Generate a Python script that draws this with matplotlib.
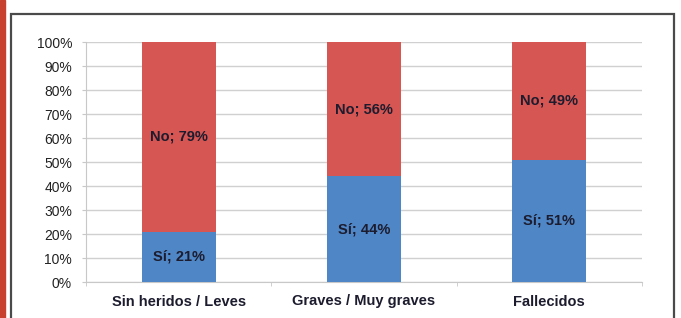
import matplotlib.pyplot as plt
from matplotlib.patches import Rectangle
from matplotlib.ticker import PercentFormatter, FixedLocator

plt.rcParams["font.family"] = ["Liberation Sans", "DejaVu Sans"]

# Data
categories = ["Sin heridos / Leves", "Graves / Muy graves", "Fallecidos"]
si_values = [21, 44, 51]
no_values = [79, 56, 49]

COLOR_SI = "#4F86C6"
COLOR_NO = "#D65653"
TEXT = "#1C1C2E"


def main() -> None:
    fig = plt.figure(figsize=(6.81, 3.18), dpi=100)

    # Red strip on the left and dark frame, as in the page layout
    fig.patches.append(Rectangle((0, 0), 5 / 681, 1, transform=fig.transFigure,
                                 color="#C8412F", zorder=0))
    fig.patches.append(Rectangle((11 / 681, -0.1), 663 / 681, 1 - 14 / 318 + 0.1,
                                 transform=fig.transFigure, fill=False,
                                 edgecolor="#4A4A4A", linewidth=1.6, zorder=1))

    ax = fig.add_axes([86 / 681, 1 - 282 / 318, 556 / 681, 240 / 318])
    x = range(len(categories))
    ax.bar(x, si_values, width=0.4, color=COLOR_SI, zorder=3)
    ax.bar(x, no_values, width=0.4, bottom=si_values, color=COLOR_NO, zorder=3)

    for i, (si, no) in enumerate(zip(si_values, no_values)):
        ax.text(i, si / 2, f"Sí; {si}%", ha="center", va="center",
                fontsize=10.5, fontweight="bold", color=TEXT, zorder=4)
        ax.text(i, si + no / 2, f"No; {no}%", ha="center", va="center",
                fontsize=10.5, fontweight="bold", color=TEXT, zorder=4)

    ax.set_xlim(-0.5, 2.5)
    ax.set_ylim(0, 100)
    ax.set_yticks(range(0, 101, 10))
    ax.yaxis.set_major_formatter(PercentFormatter(decimals=0))
    ax.grid(axis="y", color="#D0D0D0", linewidth=1.0, zorder=0)

    ax.set_xticks(list(x))
    ax.set_xticklabels(categories, fontsize=10.5, fontweight="bold", color=TEXT)
    ax.tick_params(axis="x", which="major", length=0, pad=9)
    ax.xaxis.set_minor_locator(FixedLocator([-0.5, 0.5, 1.5, 2.5]))
    ax.tick_params(axis="x", which="minor", length=3, color="#C8C8C8")
    ax.tick_params(axis="y", length=3, color="#C8C8C8", labelsize=10,
                   labelcolor="#222222", pad=7)

    for side in ["top", "right"]:
        ax.spines[side].set_visible(False)
    ax.spines["left"].set_color("#C8C8C8")
    ax.spines["bottom"].set_color("#C8C8C8")

    fig.savefig("out.png", dpi=100)


if __name__ == "__main__":
    main()
